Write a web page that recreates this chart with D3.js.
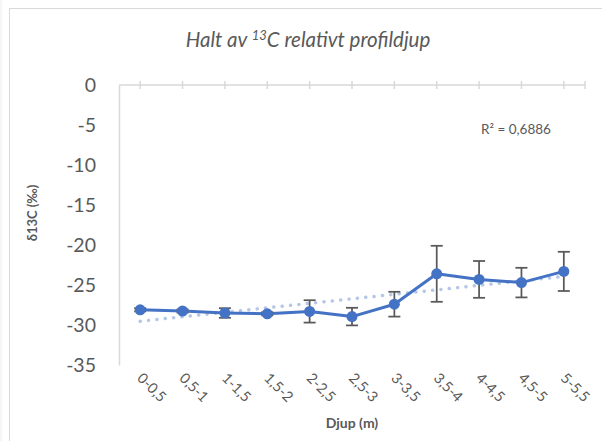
<!DOCTYPE html>
<html>
<head>
<meta charset="utf-8">
<script src="https://cdn.jsdelivr.net/npm/d3@7"></script>
<style>
  body { margin: 0; background: #fff; }
  svg { display: block; font-family: Lato, "Open Sans", sans-serif; }
</style>
</head>
<body>
<div></div>
<script>
const width = 602
const height = 441

// depth intervals (x categories)
const depths = ["0-0,5", "0,5-1", "1-1,5", "1,5-2", "2-2,5", "2,5-3", "3-3,5", "3,5-4", "4-4,5", "4,5-5", "5-5,5"]
// mean d13C per interval
const values = [-28.1, -28.25, -28.5, -28.6, -28.3, -28.95, -27.4, -23.6, -24.3, -24.7, -23.3]
// error bar half-lengths
const errors = [0.2, 0.2, 0.6, 0.2, 1.4, 1.1, 1.55, 3.5, 2.3, 1.85, 2.45]
const yTicks = [0, -5, -10, -15, -20, -25, -30, -35]

const blue = "#4472C4"
const grey = "#595959"
const axisGrey = "#D9D9D9"

const svg = d3.select("div")
    .append("svg")
    .attr("width", width)
    .attr("height", height)

// chart frame
svg.append("rect")
    .attr("x", 9.5).attr("y", 8.5)
    .attr("width", 620).attr("height", 460)
    .attr("fill", "#fff")
    .attr("stroke", axisGrey)
svg.append("line")
    .attr("x1", 1).attr("x2", 1).attr("y1", 0).attr("y2", height)
    .attr("stroke", "#ececec")

const xScale = d3.scaleBand()
    .domain(depths)
    .range([119, 585])
const cx = d => xScale(d) + xScale.bandwidth() / 2

const yScale = d3.scaleLinear()
    .domain([-35, 0])
    .range([365, 85])

// title
const title = svg.append("text")
    .attr("x", 308).attr("y", 47)
    .attr("text-anchor", "middle")
    .attr("fill", grey)
    .style("font-size", "20.5px")
    .style("font-style", "italic")
title.append("tspan").text("Halt av ")
title.append("tspan").text("13").attr("dy", -7).style("font-size", "13px")
title.append("tspan").text("C relativt profildjup").attr("dy", 7)

// y axis
const yAxis = svg.append("g")
    .attr("transform", "translate(119,0)")
    .call(d3.axisLeft(yScale).tickValues(yTicks).tickSize(0).tickPadding(23).tickFormat(d3.format("d")))
yAxis.select(".domain").attr("stroke", axisGrey).attr("stroke-width", 1.5)
yAxis.selectAll("text")
    .attr("fill", grey)
    .style("font-size", "19.5px")
    .style("font-family", "Lato, sans-serif")
    .text(d => d < 0 ? "-" + Math.abs(d) : d)

// horizontal axis crossing at 0
svg.append("line")
    .attr("x1", 119).attr("x2", 585)
    .attr("y1", yScale(0)).attr("y2", yScale(0))
    .attr("stroke", axisGrey).attr("stroke-width", 1.5)
svg.selectAll(".xtick")
    .data(depths.map(cx).concat([585]))
    .join("line")
    .attr("class", "xtick")
    .attr("x1", d => d).attr("x2", d => d)
    .attr("y1", yScale(0) - 4).attr("y2", yScale(0) + 4)
    .attr("stroke", axisGrey).attr("stroke-width", 1.5)

// category labels
svg.selectAll(".xlabel")
    .data(depths)
    .join("text")
    .attr("class", "xlabel")
    .attr("transform", d => `translate(${cx(d) - 4},${379}) rotate(45)`)
    .attr("fill", grey)
    .style("font-size", "14.5px")
    .text(d => d)

// axis titles
svg.append("text")
    .attr("x", 352).attr("y", 428)
    .attr("text-anchor", "middle")
    .attr("fill", grey)
    .style("font-size", "14px")
    .style("font-weight", "bold")
    .text("Djup (m)")
svg.append("text")
    .attr("transform", "translate(37,213) rotate(-90)")
    .attr("text-anchor", "middle")
    .attr("fill", grey)
    .style("font-size", "13px")
    .style("font-weight", "bold")
    .text("δ13C (‰)")

// linear trend
const n = values.length
const xs = d3.range(1, n + 1)
const mx = d3.mean(xs), my = d3.mean(values)
const slope = d3.sum(xs, (x, i) => (x - mx) * (values[i] - my)) / d3.sum(xs, x => (x - mx) ** 2)
const icpt = my - slope * mx
svg.append("line")
    .attr("x1", cx(depths[0])).attr("x2", cx(depths[n - 1]))
    .attr("y1", yScale(icpt + slope * 1)).attr("y2", yScale(icpt + slope * n))
    .attr("stroke", "#B4C7E7")
    .attr("stroke-width", 3.5)
    .attr("stroke-linecap", "round")
    .attr("stroke-dasharray", "0.1 8.3")

svg.append("text")
    .attr("x", 481).attr("y", 134)
    .attr("fill", grey)
    .style("font-size", "13.5px")
    .text("R² = 0,6886")

// data line
const line = d3.line()
    .x((d, i) => cx(depths[i]))
    .y(d => yScale(d))
svg.append("path")
    .datum(values)
    .attr("d", line)
    .attr("fill", "none")
    .attr("stroke", blue)
    .attr("stroke-width", 3)
    .attr("stroke-linejoin", "round")

// error bars
const eb = svg.append("g")
    .attr("stroke", grey)
    .attr("stroke-width", 1.75)
values.forEach((v, i) => {
    const x = cx(depths[i])
    eb.append("line").attr("x1", x).attr("x2", x).attr("y1", yScale(v + errors[i])).attr("y2", yScale(v - errors[i]))
    eb.append("line").attr("x1", x - 6).attr("x2", x + 6).attr("y1", yScale(v + errors[i])).attr("y2", yScale(v + errors[i]))
    eb.append("line").attr("x1", x - 6).attr("x2", x + 6).attr("y1", yScale(v - errors[i])).attr("y2", yScale(v - errors[i]))
})

// markers
svg.selectAll(".pt")
    .data(values)
    .join("circle")
    .attr("class", "pt")
    .attr("cx", (d, i) => cx(depths[i]))
    .attr("cy", d => yScale(d))
    .attr("r", 5.5)
    .attr("fill", blue)
</script>
</body>
</html>
